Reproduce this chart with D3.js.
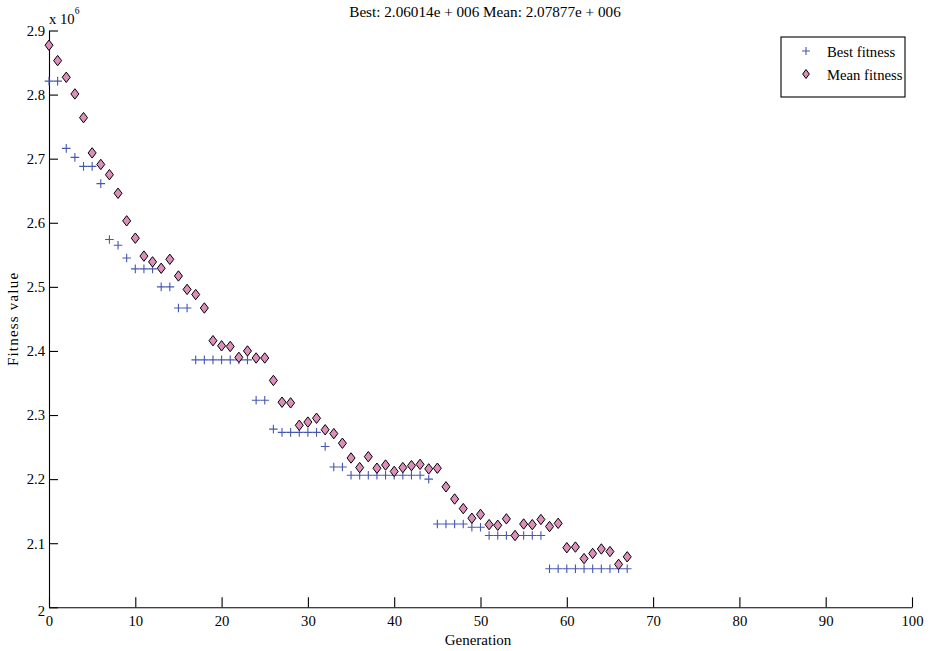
<!DOCTYPE html>
<html>
<head>
<meta charset="utf-8">
<script src="https://cdn.jsdelivr.net/npm/d3@7"></script>
<style>
  body { margin: 0; background: #fff; }
  svg { display: block; }
  text { font-family: "Liberation Serif", "Times New Roman", serif; fill: #000; }
</style>
</head>
<body>
<svg id="chart" width="932" height="651"></svg>
<script>
// generations 0..67, fitness in units of 1e6
const generations = d3.range(0, 68);

const bestFitness = [
  2.821, 2.821, 2.716, 2.702, 2.688, 2.688, 2.661, 2.574, 2.565, 2.545,
  2.528, 2.528, 2.528, 2.500, 2.500, 2.467, 2.467, 2.386, 2.386, 2.386,
  2.386, 2.386, 2.386, 2.386, 2.323, 2.323, 2.278, 2.273, 2.273, 2.273,
  2.273, 2.273, 2.251, 2.219, 2.219, 2.206, 2.206, 2.206, 2.206, 2.206,
  2.206, 2.206, 2.206, 2.206, 2.200, 2.130, 2.130, 2.130, 2.130, 2.125,
  2.125, 2.112, 2.112, 2.112, 2.112, 2.112, 2.112, 2.112, 2.06014, 2.06014,
  2.06014, 2.06014, 2.06014, 2.06014, 2.06014, 2.06014, 2.06014, 2.06014
];

const meanFitness = [
  2.877, 2.853, 2.827, 2.801, 2.764, 2.709, 2.691, 2.675, 2.646, 2.603,
  2.576, 2.548, 2.539, 2.529, 2.543, 2.517, 2.496, 2.488, 2.467, 2.416,
  2.408, 2.407, 2.390, 2.400, 2.389, 2.389, 2.354, 2.320, 2.319, 2.284,
  2.289, 2.295, 2.277, 2.271, 2.256, 2.233, 2.218, 2.235, 2.217, 2.222,
  2.212, 2.218, 2.221, 2.223, 2.216, 2.217, 2.188, 2.169, 2.154, 2.139,
  2.145, 2.129, 2.128, 2.138, 2.112, 2.130, 2.129, 2.137, 2.126, 2.131,
  2.093, 2.094, 2.076, 2.084, 2.091, 2.087, 2.067, 2.07877
];

const xTicks = [0, 10, 20, 30, 40, 50, 60, 70, 80, 90, 100];
const yTicks = [2, 2.1, 2.2, 2.3, 2.4, 2.5, 2.6, 2.7, 2.8, 2.9];
const yTickLabels = ['2', '2.1', '2.2', '2.3', '2.4', '2.5', '2.6', '2.7', '2.8', '2.9'];

const titleText = 'Best: 2.06014e + 006 Mean: 2.07877e + 006';
const seriesNames = ['Best fitness', 'Mean fitness'];

const BLUE = '#4657b0';
const PINK = '#dc8fba';
const FS = '14.7px';

const svg = d3.select('#chart');
const margin = { left: 49, right: 20, top: 30.5, bottom: 43.7 };
const width = 932, height = 651;

const x = d3.scaleLinear().domain([0, 100]).range([margin.left, width - margin.right]);
const y = d3.scaleLinear().domain([2, 2.9]).range([height - margin.bottom, margin.top]);

// axes: ticks pointing inward, no box (like matlab with box off)
const xAxis = d3.axisBottom(x)
  .tickValues(xTicks)
  .tickSizeInner(-10)
  .tickSizeOuter(0)
  .tickPadding(4)
  .tickFormat(d3.format('d'));

const yAxis = d3.axisLeft(y)
  .tickValues(yTicks)
  .tickSizeInner(-9)
  .tickSizeOuter(0)
  .tickPadding(4)
  .tickFormat((d, i) => yTickLabels[i]);

const gx = svg.append('g')
  .attr('transform', `translate(0,${y(2)})`)
  .call(xAxis);
gx.selectAll('text').style('font-size', FS).attr('dy', '1em');

const gy = svg.append('g')
  .attr('transform', `translate(${x(0)},0)`)
  .call(yAxis);
gy.selectAll('text').style('font-size', FS).attr('dy', '0.33em');
// the bottom "2" sits a little low in the original
gy.selectAll('.tick').filter((d) => d === 2).select('text').attr('dy', '0.55em');

svg.selectAll('.domain, .tick line').attr('stroke', '#000').attr('stroke-width', 1.1);

// exponent label
const expo = svg.append('text')
  .attr('x', x(0))
  .attr('y', 23.5)
  .style('font-size', FS);
expo.append('tspan').text('x 10');
expo.append('tspan').text('6').attr('dy', -10).style('font-size', '9.5px');

// title
svg.append('text')
  .attr('x', 485)
  .attr('y', 17)
  .attr('text-anchor', 'middle')
  .style('font-size', '15.2px')
  .text(titleText);

// axis labels
svg.append('text')
  .attr('x', 478)
  .attr('y', 645)
  .attr('text-anchor', 'middle')
  .style('font-size', '15px')
  .text('Generation');

svg.append('text')
  .attr('transform', `translate(17.5,${(y(2) + y(2.9)) / 2}) rotate(-90)`)
  .attr('text-anchor', 'middle')
  .style('font-size', '15px')
  .style('letter-spacing', '1.2px')
  .text('Fitness value');

// markers
const plusPath = (s) => `M${-s},0H${s}M0,${-s}V${s}`;
const diamondPath = (w, h) => `M0,${-h}L${w},0L0,${h}L${-w},0Z`;

const pts = svg.append('g');

pts.selectAll('path.best')
  .data(generations)
  .enter().append('path')
  .attr('class', 'best')
  .attr('transform', (g) => `translate(${x(g)},${y(bestFitness[g])})`)
  .attr('d', plusPath(4.3))
  .attr('fill', 'none')
  .attr('stroke', BLUE)
  .attr('stroke-width', 1.1);

pts.selectAll('path.mean')
  .data(generations)
  .enter().append('path')
  .attr('class', 'mean')
  .attr('transform', (g) => `translate(${x(g)},${y(meanFitness[g])})`)
  .attr('d', diamondPath(4, 5.2))
  .attr('fill', PINK)
  .attr('stroke', '#000')
  .attr('stroke-width', 1);

// legend
const legend = svg.append('g').attr('transform', 'translate(781,37)');
legend.append('rect')
  .attr('width', 124)
  .attr('height', 60)
  .attr('fill', '#fff')
  .attr('stroke', '#000')
  .attr('stroke-width', 1.1);

legend.append('path')
  .attr('transform', 'translate(25,14)')
  .attr('d', plusPath(4))
  .attr('stroke', BLUE)
  .attr('stroke-width', 1.1);
legend.append('path')
  .attr('transform', 'translate(25,37)')
  .attr('d', diamondPath(3.3, 4.5))
  .attr('fill', PINK)
  .attr('stroke', '#000')
  .attr('stroke-width', 1);

legend.selectAll('text.lbl')
  .data(seriesNames)
  .enter().append('text')
  .attr('class', 'lbl')
  .attr('x', 46)
  .attr('y', (d, i) => 20 + i * 23)
  .style('font-size', FS)
  .text((d) => d);
</script>
</body>
</html>
